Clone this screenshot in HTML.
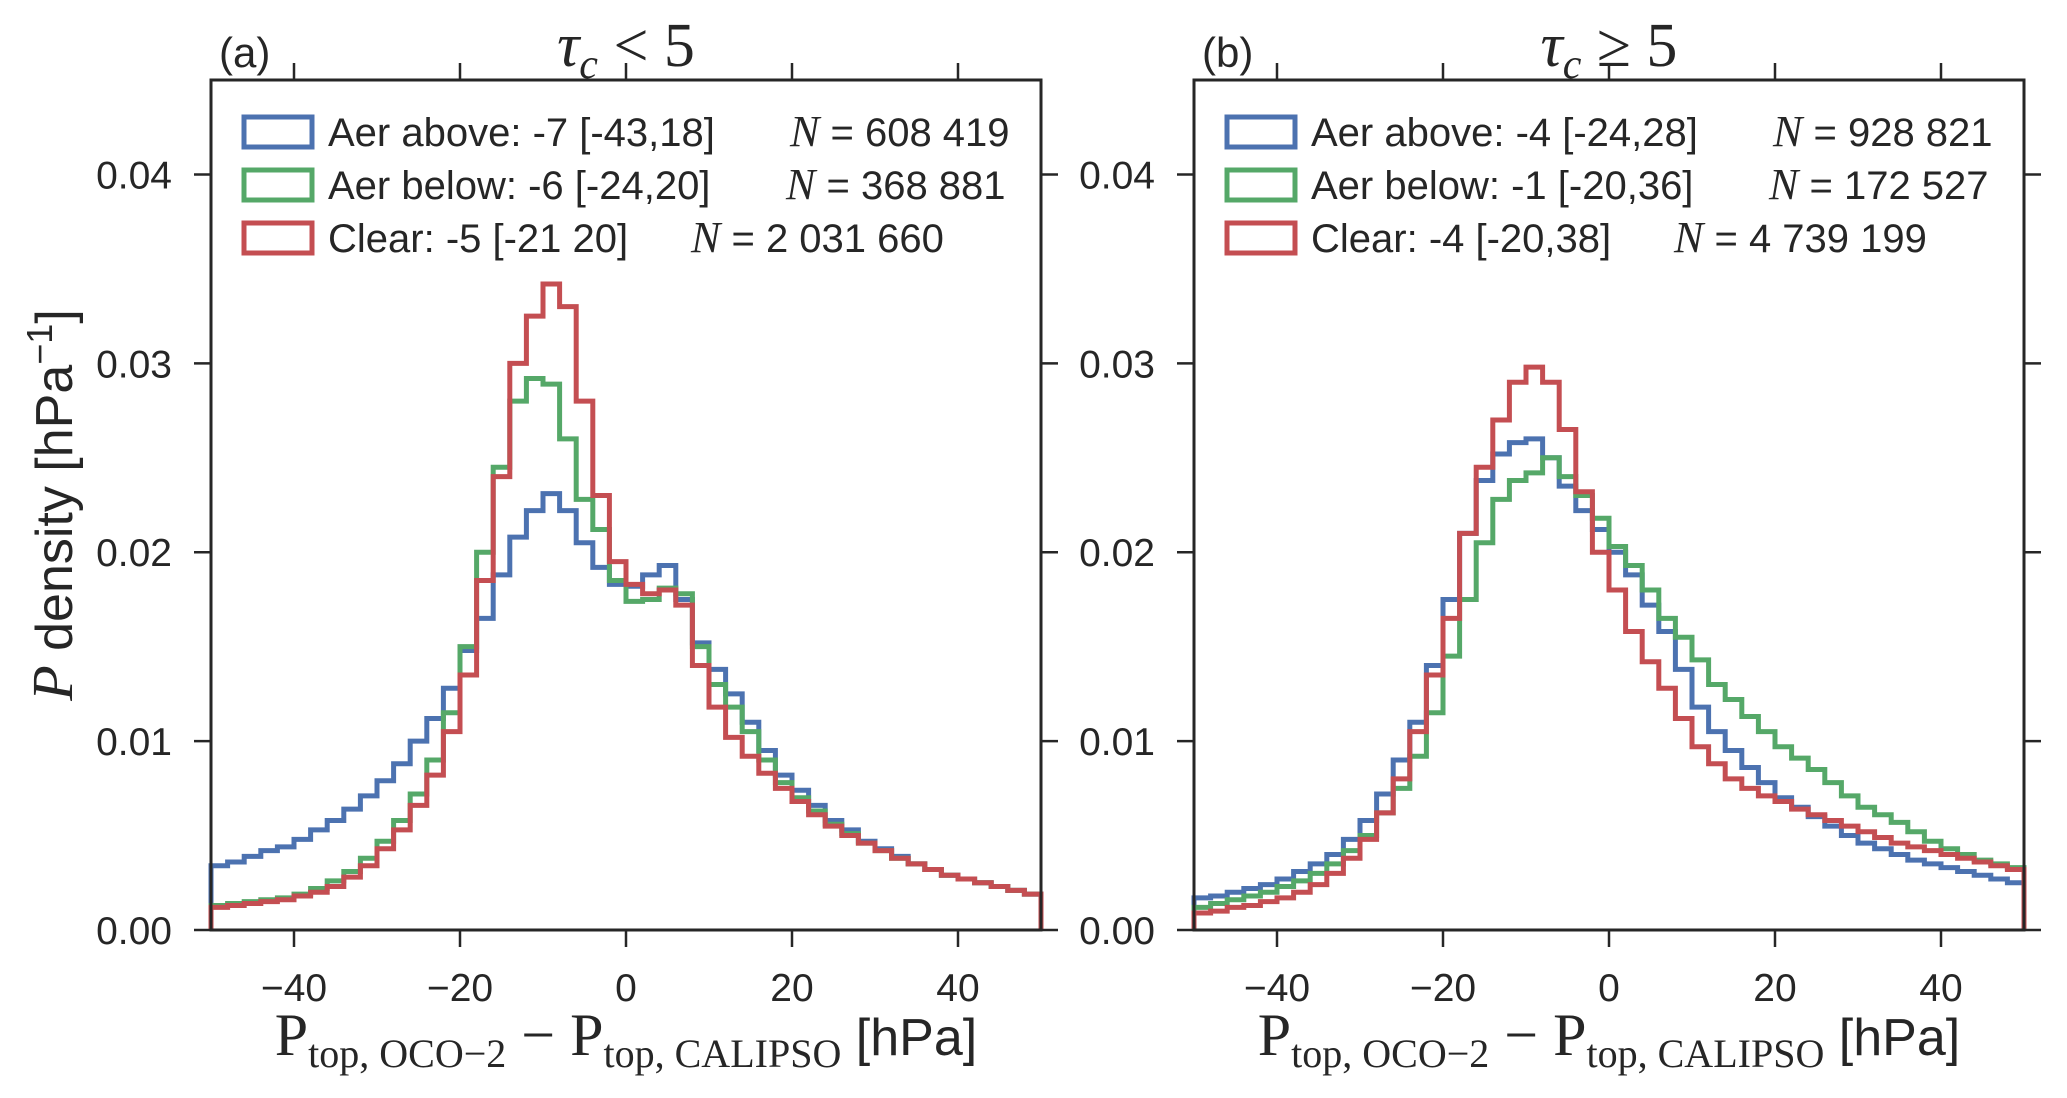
<!DOCTYPE html>
<html><head><meta charset="utf-8">
<style>
html,body{margin:0;padding:0;background:#fff;}
svg{display:block;}
text{font-family:"Liberation Sans",sans-serif;fill:#262626;}
.serif{font-family:"Liberation Serif",serif;}
</style></head>
<body>
<svg id="chart" width="2067" height="1098" viewBox="0 0 2067 1098" xmlns="http://www.w3.org/2000/svg"></svg>
<script>
// bin centers (hPa), 2 hPa bins from -50 to 50
const binCenters = [-49,-47,-45,-43,-41,-39,-37,-35,-33,-31,-29,-27,-25,-23,-21,-19,-17,-15,-13,-11,-9,-7,-5,-3,-1,1,3,5,7,9,11,13,15,17,19,21,23,25,27,29,31,33,35,37,39,41,43,45,47,49];
const binWidth = 2;
const xTicks = [-40,-20,0,20,40];
const yTicks = [0,0.01,0.02,0.03,0.04];
const yTickLabels = ["0.00","0.01","0.02","0.03","0.04"];
// panel (a) tau_c < 5
const aAbove = [.0034,.0036,.0039,.0042,.0044,.0048,.0053,.0058,.0064,.0071,.0079,.0088,.0100,.0112,.0128,.0148,.0165,.0188,.0208,.0222,.0231,.0222,.0205,.0192,.0183,.0182,.0188,.0193,.0175,.0152,.0138,.0125,.0110,.0095,.0082,.0074,.0066,.0058,.0053,.0047,.0043,.0039,.0035,.0032,.0029,.0027,.0025,.0023,.0021,.0019];
const aBelow = [.0013,.0014,.0015,.0016,.0017,.0019,.0022,.0026,.0031,.0038,.0047,.0058,.0072,.0090,.0115,.0150,.0200,.0245,.0280,.0292,.0289,.0260,.0228,.0212,.0185,.0174,.0175,.0181,.0178,.0150,.0130,.0118,.0105,.0090,.0078,.0070,.0063,.0056,.0051,.0046,.0042,.0038,.0035,.0032,.0029,.0027,.0025,.0023,.0021,.0019];
const aClear = [.0012,.0013,.0014,.0015,.0016,.0018,.0020,.0023,.0028,.0034,.0043,.0053,.0066,.0082,.0105,.0135,.0185,.0240,.0300,.0325,.0342,.0330,.0280,.0230,.0195,.0183,.0178,.0180,.0172,.0140,.0118,.0102,.0092,.0083,.0075,.0068,.0061,.0055,.0050,.0046,.0042,.0038,.0035,.0032,.0029,.0027,.0025,.0023,.0021,.0019];
// panel (b) tau_c >= 5
const bAbove = [.0017,.0018,.0020,.0022,.0024,.0027,.0031,.0035,.0040,.0048,.0058,.0072,.0090,.0110,.0140,.0175,.0210,.0238,.0252,.0258,.0260,.0250,.0235,.0222,.0212,.0200,.0188,.0172,.0158,.0138,.0118,.0105,.0095,.0086,.0078,.0070,.0065,.0060,.0055,.0050,.0046,.0043,.0040,.0037,.0035,.0033,.0031,.0029,.0027,.0025];
const bBelow = [.0012,.0014,.0016,.0018,.0020,.0023,.0026,.0030,.0035,.0042,.0050,.0062,.0075,.0092,.0115,.0145,.0175,.0205,.0228,.0238,.0242,.0250,.0240,.0230,.0218,.0203,.0193,.0180,.0165,.0155,.0143,.0130,.0122,.0113,.0105,.0097,.0091,.0085,.0078,.0071,.0065,.0061,.0057,.0052,.0047,.0043,.0040,.0037,.0035,.0033];
const bClear = [.0009,.0010,.0012,.0013,.0015,.0017,.0020,.0024,.0030,.0038,.0048,.0062,.0080,.0105,.0135,.0165,.0210,.0245,.0270,.0290,.0298,.0290,.0265,.0232,.0200,.0180,.0158,.0142,.0128,.0112,.0097,.0088,.0080,.0075,.0071,.0068,.0064,.0061,.0058,.0055,.0052,.0049,.0046,.0044,.0042,.0040,.0038,.0036,.0034,.0032];
const legendA = [["Aer above: -7 [-43,18]","608 419",790],["Aer below: -6 [-24,20]","368 881",786],["Clear: -5 [-21 20]","2 031 660",691]];
const legendB = [["Aer above: -4 [-24,28]","928 821",790],["Aer below: -1 [-20,36]","172 527",786],["Clear: -4 [-20,38]","4 739 199",691]];

const NS="http://www.w3.org/2000/svg";
const svgRoot=document.getElementById('chart');
const colors=["#4c72b0","#55a868","#c44e52"];
const keys=["aer-above","aer-below","clear"];
function el(tag,attrs,parent,txt){const e=document.createElementNS(NS,tag);for(const k in attrs)e.setAttribute(k,attrs[k]);if(txt!==undefined)e.textContent=txt;(parent||svgRoot).appendChild(e);return e;}

const plotTop=80,plotBottom=930,ymax=0.045,W=830;
function yScale(v){return plotBottom-(v/ymax)*(plotBottom-plotTop);}

function panel(left,id,letter,titleRel,series,legend){
  const g=el('g',{});
  
  
  const xS=v=>left+(v+50)/100*W;
  series.forEach((vals,si)=>{
    let d="M"+xS(binCenters[0]-binWidth/2)+","+plotBottom;
    vals.forEach((v,i)=>{const x0=xS(binCenters[i]-binWidth/2),x1=xS(binCenters[i]+binWidth/2),y=yScale(v);d+=" L"+x0+","+y+" L"+x1+","+y;});
    d+=" L"+xS(binCenters[binCenters.length-1]+binWidth/2)+","+plotBottom;
    const p=el('path',{d:d,fill:"none",stroke:colors[si],"stroke-width":5,"stroke-linejoin":"miter"},g);
    
    
  });
  const fr=el('rect',{x:left,y:plotTop,width:W,height:plotBottom-plotTop,fill:"none",stroke:"#262626","stroke-width":3},g);
  
  
  xTicks.forEach(t=>{
    const x=xS(t);
    el('line',{x1:x,x2:x,y1:plotBottom,y2:plotBottom+17,stroke:"#262626","stroke-width":2.5},g);
    el('line',{x1:x,x2:x,y1:plotTop,y2:plotTop-17,stroke:"#262626","stroke-width":2.5},g);
    const tl=el('text',{x:x,y:1001,"font-size":39,"text-anchor":"middle"},g,(t<0?"\u2212":"")+Math.abs(t));
    
    
  });
  yTicks.forEach((t,i)=>{
    const y=yScale(t);
    el('line',{x1:left-17,x2:left,y1:y,y2:y,stroke:"#262626","stroke-width":2.5},g);
    el('line',{x1:left+W,x2:left+W+17,y1:y,y2:y,stroke:"#262626","stroke-width":2.5},g);
    const tl=el('text',{x:left-39,y:y+14,"font-size":39,"text-anchor":"end"},g,yTickLabels[i]);
    
    
  });
  const pl=el('text',{x:left+8,y:67,"font-size":42},g,letter);
  
  
  const tt=el('text',{x:left+W/2,y:66,"font-size":62,"text-anchor":"middle","class":"serif"},g);
  
  
  el('tspan',{"font-style":"italic"},tt,"\u03c4");
  el('tspan',{"font-style":"italic","font-size":42,dy:12},tt,"c");
  el('tspan',{dy:-12},tt," "+titleRel+" 5");
  const xl=el('text',{x:left+W/2,y:1055,"font-size":60,"text-anchor":"middle","class":"serif"},g);
  
  
  el('tspan',{},xl,"P");
  el('tspan',{"font-size":40,dy:12},xl,"top, OCO\u22122");
  el('tspan',{dy:-12},xl," \u2212 P");
  el('tspan',{"font-size":40,dy:12},xl,"top, CALIPSO");
  el('tspan',{dy:-12,"font-family":"Liberation Sans, sans-serif","font-size":52},xl," [hPa]");
  const lg=el('g',{},g);
  
  
  legend.forEach((r,i)=>{
    const cy=132+i*53;
    const e=el('g',{},lg);
    
    
    el('rect',{x:left+33,y:cy-15,width:68,height:30,fill:"none",stroke:colors[i],"stroke-width":5},e);
    el('text',{x:left+117,y:cy+14,"font-size":40},e,r[0]);
    const nt=el('text',{x:left+(r[2]-211),y:cy+14,"font-size":40},e);
    el('tspan',{"font-family":"Liberation Serif, serif","font-style":"italic","font-size":44},nt,"N");
    el('tspan',{},nt," = "+r[1]);
  });
  return g;
}
panel(211,"a","(a)","<",[aAbove,aBelow,aClear],legendA);
panel(1194,"b","(b)","\u2265",[bAbove,bBelow,bClear],legendB);
const yt=el('text',{x:0,y:0,"font-size":52,"text-anchor":"middle",transform:"translate(72,505) rotate(-90)"});


el('tspan',{"font-family":"Liberation Serif, serif","font-style":"italic","font-size":58},yt,"P");
el('tspan',{},yt," density [hPa");
el('tspan',{"font-size":36,dy:-20},yt,"\u22121");
el('tspan',{dy:20},yt,"]");
</script>
</body></html>
